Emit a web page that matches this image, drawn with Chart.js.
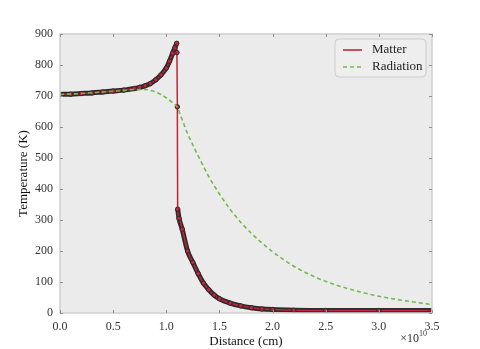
<!DOCTYPE html>
<html>
<head>
<meta charset="utf-8">
<script src="https://cdn.jsdelivr.net/npm/chart.js@4.4.1/dist/chart.umd.min.js"></script>
<style>
  html, body { margin: 0; padding: 0; background: #fff; }
  #box { width: 480px; height: 349px; }
</style>
</head>
<body>
<div id="box"><canvas id="grafico"></canvas></div>
<script>
// distance in cm, temperature in K
const riseX = [0, 0.1e10, 0.2e10, 0.3e10, 0.4e10, 0.5e10, 0.6e10, 0.7e10, 0.75e10, 0.8e10, 0.85e10, 0.9e10, 0.95e10, 1.0e10, 1.03e10, 1.06e10, 1.08e10, 1.098e10];
const riseT = [705, 706, 708, 710, 713, 716, 719, 724, 728, 733, 740, 752, 768, 790, 812, 838, 855, 870];

const jumpX = [1.1e10, 1.104e10];
const jumpT = [840, 665];

const decayX = [1.107e10, 1.12e10, 1.15e10, 1.2e10, 1.25e10, 1.3e10, 1.35e10, 1.4e10, 1.45e10, 1.5e10, 1.6e10, 1.7e10, 1.8e10, 1.9e10, 2.0e10, 2.2e10, 2.5e10, 3.0e10, 3.5e10];
const decayT = [335, 305, 270, 200, 163, 127, 96, 75, 58, 46, 32, 23, 17, 13, 11, 9, 8, 8, 8];

const radX = [0, 0.2e10, 0.4e10, 0.6e10, 0.7e10, 0.8e10, 0.85e10, 0.9e10, 0.95e10, 1.0e10, 1.05e10, 1.1e10, 1.15e10, 1.2e10, 1.25e10, 1.3e10, 1.4e10, 1.5e10, 1.6e10, 1.7e10, 1.8e10, 1.9e10, 2.0e10, 2.1e10, 2.2e10, 2.4e10, 2.6e10, 2.8e10, 3.0e10, 3.2e10, 3.5e10];
const radT = [705, 708, 713, 718, 721, 721, 718, 713, 705, 694, 681, 665, 623, 579, 542, 507, 440, 384, 335, 293, 257, 226, 198, 173, 151, 116, 90, 70, 54, 42, 27];

const xTicks = [0, 0.5e10, 1.0e10, 1.5e10, 2.0e10, 2.5e10, 3.0e10, 3.5e10];
const yTicks = [0, 100, 200, 300, 400, 500, 600, 700, 800, 900];

const vermelho = "#c3243a";
const verde = "#74b94d";
const serif = "'Liberation Serif', 'DejaVu Serif', serif";

const pts = (xs, ys) => xs.map((x, i) => ({ x: x, y: ys[i] }));

const matterData = pts(riseX, riseT).concat(pts(jumpX, jumpT), pts(decayX, decayT));
const haloData = pts(riseX, riseT).concat([{ x: 1.1e10, y: null }], pts(decayX, decayT));

// plot background, frame, inward ticks, legend and offset text
const moldura = {
  id: "moldura",
  beforeDraw(chart) {
    const a = chart.chartArea, ctx = chart.ctx;
    ctx.save();
    ctx.fillStyle = "#ebebeb";
    ctx.fillRect(a.left, a.top, a.right - a.left, a.bottom - a.top);
    ctx.restore();
  },
  afterDraw(chart) {
    const a = chart.chartArea, ctx = chart.ctx;
    const sx = chart.scales.x, sy = chart.scales.y;
    ctx.save();
    ctx.strokeStyle = "#d0d0d0";
    ctx.lineWidth = 1.5;
    ctx.strokeRect(a.left, a.top, a.right - a.left, a.bottom - a.top);

    ctx.strokeStyle = "#909090";
    ctx.lineWidth = 1;
    ctx.beginPath();
    xTicks.forEach(v => {
      const px = Math.round(sx.getPixelForValue(v)) + 0.5;
      ctx.moveTo(px, a.bottom); ctx.lineTo(px, a.bottom - 3);
      ctx.moveTo(px, a.top); ctx.lineTo(px, a.top + 3);
    });
    yTicks.forEach(v => {
      const py = Math.round(sy.getPixelForValue(v)) + 0.5;
      ctx.moveTo(a.left, py); ctx.lineTo(a.left + 3, py);
      ctx.moveTo(a.right, py); ctx.lineTo(a.right - 3, py);
    });
    ctx.stroke();

    // legend
    const lx = a.right - 97, ly = a.top + 5, lw = 91, lh = 38;
    ctx.beginPath();
    ctx.roundRect(lx, ly, lw, lh, 4);
    ctx.fillStyle = "#eeeeee";
    ctx.fill();
    ctx.strokeStyle = "#cccccc";
    ctx.lineWidth = 1;
    ctx.stroke();

    ctx.font = "13px " + serif;
    ctx.fillStyle = "#222";
    ctx.textBaseline = "middle";
    ctx.lineWidth = 1.6;
    ctx.strokeStyle = vermelho;
    ctx.beginPath();
    ctx.moveTo(lx + 8, ly + 11); ctx.lineTo(lx + 27, ly + 11);
    ctx.stroke();
    ctx.fillText("Matter", lx + 37, ly + 11);
    ctx.strokeStyle = verde;
    ctx.setLineDash([4, 3]);
    ctx.beginPath();
    ctx.moveTo(lx + 8, ly + 28); ctx.lineTo(lx + 27, ly + 28);
    ctx.stroke();
    ctx.setLineDash([]);
    ctx.fillText("Radiation", lx + 37, ly + 28);

    // x offset
    ctx.fillStyle = "#333";
    ctx.textAlign = "right";
    ctx.textBaseline = "alphabetic";
    ctx.font = "8px " + serif;
    ctx.fillText("10", a.right - 5, a.bottom + 23);
    const w = ctx.measureText("10").width;
    ctx.font = "12px " + serif;
    ctx.fillText("×10", a.right - 5 - w, a.bottom + 29);
    ctx.restore();
  }
};

const ctx = document.getElementById("grafico").getContext("2d");

const grafico = new Chart(ctx, {
  type: "line",
  data: {
    datasets: [
      {
        label: "Radiation",
        data: pts(radX, radT),
        borderColor: verde,
        borderWidth: 1.6,
        borderDash: [4, 3],
        pointRadius: 0,
        cubicInterpolationMode: "monotone",
        order: 0
      },
      {
        label: "Matter",
        data: matterData,
        borderColor: vermelho,
        borderWidth: 1.5,
        pointRadius: 2.2,
        pointBackgroundColor: vermelho,
        pointBorderColor: "#2a2a2a",
        pointBorderWidth: 1,
        cubicInterpolationMode: "monotone",
        order: 1
      },
      {
        label: "halo",
        data: haloData,
        borderColor: "#2b2b2b",
        borderWidth: 5,
        pointRadius: 0,
        spanGaps: false,
        cubicInterpolationMode: "monotone",
        order: 2
      }
    ]
  },
  options: {
    responsive: true,
    maintainAspectRatio: false,
    animation: false,
    layout: { padding: { top: 34, right: 48, left: 0, bottom: 0 } },
    plugins: {
      legend: { display: false },
      tooltip: { enabled: false }
    },
    scales: {
      x: {
        type: "linear",
        min: 0,
        max: 3.5e10,
        afterFit: s => { s.height = 36; },
        afterBuildTicks: s => { s.ticks = xTicks.map(v => ({ value: v })); },
        grid: { display: false, drawTicks: false },
        border: { display: false },
        ticks: {
          padding: 7,
          color: "#333",
          font: { family: serif, size: 12 },
          callback: v => (v / 1e10).toFixed(1)
        },
        title: {
          display: true,
          text: "Distance (cm)",
          color: "#111",
          font: { family: serif, size: 13 },
          padding: { top: 0, bottom: 0 }
        }
      },
      y: {
        min: 0,
        max: 900,
        afterFit: s => { s.width = 60; },
        afterBuildTicks: s => { s.ticks = yTicks.map(v => ({ value: v })); },
        grid: { display: false, drawTicks: false },
        border: { display: false },
        ticks: {
          padding: 7,
          color: "#333",
          font: { family: serif, size: 12 }
        },
        title: {
          display: true,
          text: "Temperature (K)",
          color: "#111",
          font: { family: serif, size: 13 },
          padding: { top: 16, bottom: 0 }
        }
      }
    }
  },
  plugins: [moldura]
});
</script>
</body>
</html>
